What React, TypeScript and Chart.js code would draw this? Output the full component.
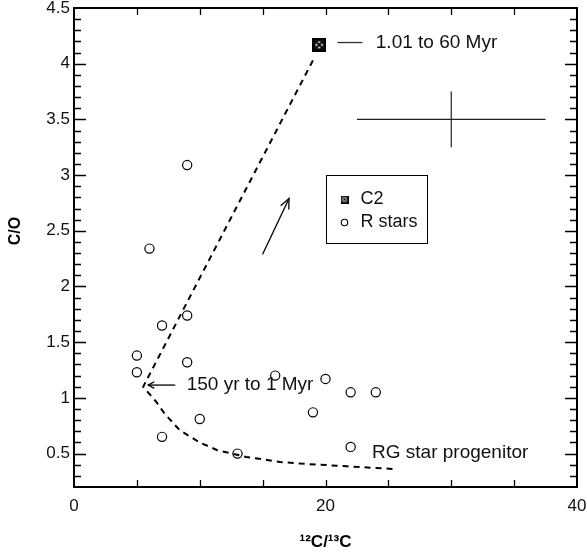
import React, { useEffect, useRef } from 'react';
import { Chart, registerables } from 'chart.js';

Chart.register(...registerables);

const FONT = '"Liberation Sans", Arial, Helvetica, sans-serif';

// R stars
const rStarX = [9, 6, 7, 9, 5, 5, 9, 16, 20, 22, 24, 19, 22, 7, 10, 13];
const rStarY = [3.09, 2.34, 1.65, 1.74, 1.38, 1.23, 1.32, 1.2, 1.17, 1.05, 1.05, 0.87, 0.56, 0.65, 0.81, 0.5];
// C2
const c2X = [19.5];
const c2Y = [4.17];
// evolutionary track (dashed)
const trackX = [19.0, 5.5, 6.5, 7.2, 8.4, 10.0, 11.4, 13.7, 16.4, 18.0, 21.7, 25.7];
const trackY = [4.03, 1.1, 0.97, 0.86, 0.71, 0.6, 0.53, 0.47, 0.425, 0.41, 0.386, 0.36];

// axes
const xMin = 0, xMax = 40, yMin = 0.2, yMax = 4.5;
const xTickLabels = [0, 20, 40];
const xTickMarks = [5, 10, 15, 20, 25, 30, 35];
const yTickLabels = [0.5, 1, 1.5, 2, 2.5, 3, 3.5, 4, 4.5];
const yMinorStep = 0.1;

// typical error cross
const errCenter = [30, 3.5];
const errHalfX = 7.5;
const errHalfY = 0.25;

// direction arrow
const dirFrom = [15.0, 2.29];
const dirTo = [17.1, 2.79];

// annotations
const noteTexts = ['1.01 to 60 Myr', '150 yr to 1 Myr', 'RG star progenitor'];
const noteX = [24.0, 8.96, 23.7];
const noteY = [4.19, 1.12, 0.51];
const c2LeaderX = [20.95, 22.94];
const c2LeaderY = 4.19;
const ageArrowX = [8.05, 5.9];
const ageArrowY = 1.115;

// legend anchor (data coords of top-left)
const legendAnchor = [20.0, 3.0];

function makeC2Icon(size: number) {
  const c = document.createElement('canvas');
  c.width = size;
  c.height = size;
  const g = c.getContext('2d')!;
  const lw = size > 10 ? 2 : 1;
  g.strokeStyle = '#000';
  g.lineWidth = lw;
  g.strokeRect(lw / 2, lw / 2, size - lw, size - lw);
  g.beginPath();
  g.moveTo(0, 0);
  g.lineTo(size, size);
  g.moveTo(size, 0);
  g.lineTo(0, size);
  g.stroke();
  g.beginPath();
  g.arc(size / 2, size / 2, size / 2 - (size > 10 ? 2.4 : 1.5), 0, Math.PI * 2);
  g.stroke();
  return c;
}

function arrowHead(ctx: CanvasRenderingContext2D, x0: number, y0: number, x1: number, y1: number, len: number, ang: number) {
  const a = Math.atan2(y1 - y0, x1 - x0);
  ctx.beginPath();
  ctx.moveTo(x1 - len * Math.cos(a - ang), y1 - len * Math.sin(a - ang));
  ctx.lineTo(x1, y1);
  ctx.lineTo(x1 - len * Math.cos(a + ang), y1 - len * Math.sin(a + ang));
  ctx.stroke();
}

export default function App() {
  const ref = useRef<HTMLCanvasElement | null>(null);

  useEffect(() => {
    if (!ref.current) return;
    const c2Big = makeC2Icon(14);
    const c2Small = makeC2Icon(8);

    const framePlugin = {
      id: 'frameTicks',
      afterDraw(chart: any) {
        const { ctx, chartArea: ca, scales } = chart;
        const xs = scales.x, ys = scales.y;
        ctx.save();
        ctx.strokeStyle = '#000';
        ctx.lineWidth = 1.3;
        ctx.beginPath();
        xTickMarks.forEach((v) => {
          const px = Math.round(xs.getPixelForValue(v)) + 0.5;
          ctx.moveTo(px, ca.bottom);
          ctx.lineTo(px, ca.bottom - 7);
          ctx.moveTo(px, ca.top);
          ctx.lineTo(px, ca.top + 7);
        });
        for (let k = 0; ; k++) {
          const v = Math.round((yMin + yMinorStep * (k + 1)) * 10) / 10;
          if (v >= yMax) break;
          const major = yTickLabels.includes(v);
          const len = major ? 12 : 7;
          const py = Math.round(ys.getPixelForValue(v)) + 0.5;
          ctx.moveTo(ca.left, py);
          ctx.lineTo(ca.left + len, py);
          ctx.moveTo(ca.right, py);
          ctx.lineTo(ca.right - len, py);
        }
        ctx.stroke();
        ctx.lineWidth = 2;
        ctx.strokeRect(ca.left, ca.top, ca.right - ca.left, ca.bottom - ca.top);
        // y title
        ctx.translate(16, 231);
        ctx.rotate(-Math.PI / 2);
        ctx.fillStyle = '#000';
        ctx.font = 'bold 16px ' + FONT;
        ctx.textAlign = 'center';
        ctx.textBaseline = 'middle';
        ctx.fillText('C/O', 0, 0);
        ctx.restore();
      },
    };

    const annotPlugin = {
      id: 'annotations',
      afterDatasetsDraw(chart: any) {
        const { ctx, scales } = chart;
        const X = (v: number) => scales.x.getPixelForValue(v);
        const Y = (v: number) => scales.y.getPixelForValue(v);
        ctx.save();
        // error cross
        ctx.strokeStyle = '#222';
        ctx.lineWidth = 1.2;
        ctx.beginPath();
        ctx.moveTo(X(errCenter[0] - errHalfX), Y(errCenter[1]));
        ctx.lineTo(X(errCenter[0] + errHalfX), Y(errCenter[1]));
        ctx.moveTo(X(errCenter[0]), Y(errCenter[1] - errHalfY));
        ctx.lineTo(X(errCenter[0]), Y(errCenter[1] + errHalfY));
        ctx.stroke();
        // direction arrow
        ctx.strokeStyle = '#000';
        ctx.lineWidth = 1.3;
        ctx.beginPath();
        ctx.moveTo(X(dirFrom[0]), Y(dirFrom[1]));
        ctx.lineTo(X(dirTo[0]), Y(dirTo[1]));
        ctx.stroke();
        arrowHead(ctx, X(dirFrom[0]), Y(dirFrom[1]), X(dirTo[0]), Y(dirTo[1]), 11, 0.42);
        // C2 leader
        ctx.strokeStyle = '#333';
        ctx.lineWidth = 1.3;
        ctx.beginPath();
        ctx.moveTo(X(c2LeaderX[0]), Y(c2LeaderY));
        ctx.lineTo(X(c2LeaderX[1]), Y(c2LeaderY));
        ctx.stroke();
        // age arrow
        ctx.strokeStyle = '#000';
        ctx.beginPath();
        ctx.moveTo(X(ageArrowX[0]), Y(ageArrowY));
        ctx.lineTo(X(ageArrowX[1]), Y(ageArrowY));
        ctx.stroke();
        arrowHead(ctx, X(ageArrowX[0]), Y(ageArrowY), X(ageArrowX[1]), Y(ageArrowY), 7, 0.5);
        // texts
        ctx.fillStyle = '#111';
        ctx.font = '19px ' + FONT;
        ctx.textAlign = 'left';
        ctx.textBaseline = 'middle';
        noteTexts.forEach((t, i) => ctx.fillText(t, X(noteX[i]), Y(noteY[i])));
        // legend
        const lx = Math.round(X(legendAnchor[0])) + 0.5;
        const ly = Math.round(Y(legendAnchor[1])) + 0.5;
        ctx.fillStyle = '#fff';
        ctx.fillRect(lx, ly, 101, 68);
        ctx.strokeStyle = '#000';
        ctx.lineWidth = 1;
        ctx.strokeRect(lx, ly, 101, 68);
        ctx.drawImage(c2Small, lx + 14, ly + 20);
        ctx.beginPath();
        ctx.arc(lx + 18, ly + 47, 3.2, 0, Math.PI * 2);
        ctx.lineWidth = 1.1;
        ctx.stroke();
        ctx.fillStyle = '#111';
        ctx.font = '18px ' + FONT;
        const ds = chart.data.datasets;
        ctx.fillText(ds[0].label, lx + 34, ly + 24);
        ctx.fillText(ds[1].label, lx + 34, ly + 47);
        ctx.restore();
      },
    };

    const chart = new Chart(ref.current, {
      type: 'scatter',
      data: {
        datasets: [
          {
            label: 'C2',
            data: c2X.map((x, i) => ({ x, y: c2Y[i] })),
            pointStyle: c2Big as any,
            pointRadius: 7,
          },
          {
            label: 'R stars',
            data: rStarX.map((x, i) => ({ x, y: rStarY[i] })),
            pointStyle: 'circle',
            pointRadius: 4.6,
            borderColor: '#000',
            borderWidth: 1.2,
            backgroundColor: 'rgba(255,255,255,0)',
          },
          {
            label: 'track',
            data: trackX.map((x, i) => ({ x, y: trackY[i] })),
            showLine: true,
            pointRadius: 0,
            borderColor: '#000',
            borderWidth: 2,
            borderDash: [6, 5],
            tension: 0,
          } as any,
        ],
      },
      options: {
        animation: false,
        responsive: false,
        layout: { padding: { top: 8, right: 10, left: 0, bottom: 0 } },
        plugins: { legend: { display: false }, tooltip: { enabled: false } },
        scales: {
          x: {
            type: 'linear',
            min: xMin,
            max: xMax,
            grid: { display: false, drawTicks: false, tickLength: 0 },
            border: { display: false },
            afterBuildTicks: (s: any) => {
              s.ticks = xTickLabels.map((v) => ({ value: v }));
            },
            afterFit: (s: any) => {
              s.height = 69;
              s.paddingLeft = 0;
              s.paddingRight = 0;
            },
            ticks: {
              maxRotation: 0,
              autoSkip: false,
              padding: 9,
              color: '#111',
              font: { family: FONT, size: 17 },
            },
            title: {
              display: true,
              text: '¹²C/¹³C',
              color: '#000',
              font: { family: FONT, size: 17, weight: 'bold' },
              padding: { top: 0, bottom: 3 },
            },
          },
          y: {
            type: 'linear',
            min: yMin,
            max: yMax,
            grid: { display: false, drawTicks: false, tickLength: 0 },
            border: { display: false },
            afterBuildTicks: (s: any) => {
              s.ticks = yTickLabels.map((v) => ({ value: v }));
            },
            afterFit: (s: any) => {
              s.width = 74;
              s.paddingTop = 0;
              s.paddingBottom = 0;
            },
            ticks: {
              autoSkip: false,
              padding: 4,
              color: '#111',
              font: { family: FONT, size: 17, lineHeight: 1 },
              callback: (v: any) => String(v),
            },
          },
        },
      },
      plugins: [framePlugin, annotPlugin],
    } as any);

    return () => chart.destroy();
  }, []);

  return (
    <div style={{ position: 'absolute', left: 0, top: 0, width: 587, height: 556, background: '#fff' }}>
      <canvas ref={ref} width={587} height={556} />
    </div>
  );
}
